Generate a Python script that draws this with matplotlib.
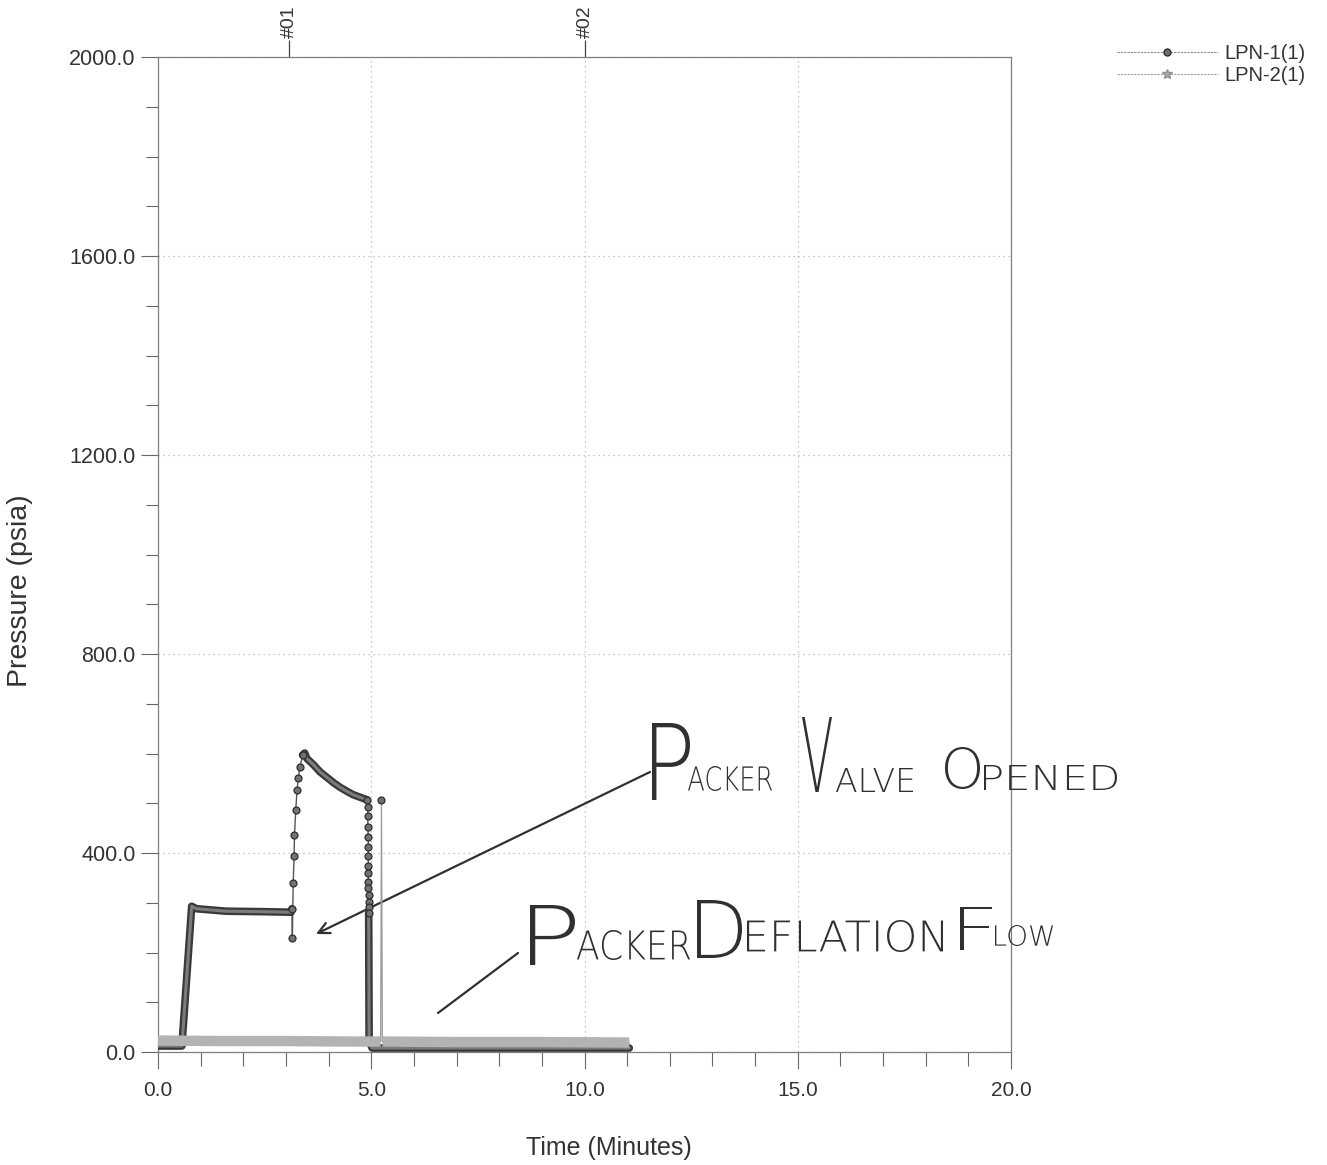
import numpy as np
import matplotlib
matplotlib.use("Agg")
import matplotlib.pyplot as plt
from matplotlib.ticker import MultipleLocator, FormatStrFormatter
from matplotlib.lines import Line2D
from matplotlib.textpath import TextPath
from matplotlib.patches import PathPatch
from matplotlib.transforms import Affine2D
from matplotlib.font_manager import FontProperties

plt.rcParams['font.family'] = ['Liberation Sans', 'DejaVu Sans']

W, H = 1327, 1165

## LPN-1(1): time (min) and pressure (psia)
t1 = [0.00, 0.56, 0.79, 0.90, 1.60, 2.50, 3.12, 3.14,
      3.15, 3.17, 3.19, 3.20, 3.23, 3.26, 3.29, 3.33, 3.39,
      3.44, 3.49, 3.65, 3.80, 3.96, 4.12, 4.27, 4.43, 4.58, 4.74, 4.90,
      4.92, 4.92, 4.92, 4.93, 4.93, 4.93, 4.93, 4.93, 4.93, 4.93, 4.94, 4.94, 4.94, 4.94,
      4.95, 5.02, 11.05]
p1 = [12, 12, 293, 288, 283, 282, 281, 288,
      229, 339, 393, 436, 486, 527, 551, 573, 597,
      601, 590, 577, 563, 552, 541, 532, 524, 517, 512, 507,
      493, 475, 453, 433, 413, 393, 374, 359, 342, 329, 316, 302, 291, 279,
      22, 8, 8]
## stretches logged so densely that the dots merge into a band (index ranges)
dense1 = [(0, 7), (16, 27), (41, 44)]
sparse1 = [(7, 16), (27, 41)]

## LPN-2(1)
t2 = [0.00, 1.50, 3.00, 4.50, 5.22, 5.24, 5.26, 7.00, 9.00, 11.05]
p2 = [23, 22, 22, 21, 21, 506, 21, 20, 20, 19]
dense2 = [(0, 4), (6, 9)]
spike2 = [5]

events = [3.08, 10.02]
event_labels = ['#01', '#02']

fig = plt.figure(figsize=(W/100, H/100), dpi=100)
ax = fig.add_axes([158/W, 1-1052/H, 853/W, 995/H])

# LPN-1
ax.plot(t1, p1, color='#555555', lw=1.0, zorder=3.5)
for a, b in dense1:
    ax.plot(t1[a:b+1], p1[a:b+1], color='#3a3a3a', lw=5.5,
            solid_capstyle='round', solid_joinstyle='round', zorder=4)
    ax.plot(t1[a:b+1], p1[a:b+1], color='#7c7c7c', lw=2.2,
            solid_capstyle='round', solid_joinstyle='round', zorder=4.1)
marks = sorted({i for a, b in sparse1 for i in range(a, b+1)})
ax.plot(t1, p1, ls='none', marker='o', ms=5, mfc='#727272', mec='#2e2e2e',
        mew=0.9, markevery=marks, zorder=5)

# LPN-2, its band lying over the LPN-1 baseline
ax.plot(t2, p2, color='#9a9a9a', lw=0.9, zorder=4.4)
for a, b in dense2:
    ax.plot(t2[a:b+1], p2[a:b+1], color='#b3b3b3', lw=7.5,
            solid_capstyle='butt', zorder=4.5)
ax.plot(t2, p2, ls='none', marker='o', ms=5, mfc='#6e6e6e', mec='#2e2e2e',
        mew=0.9, markevery=spike2, zorder=5)

ax.set_xlim(0, 20)
ax.set_ylim(0, 2000)
ax.xaxis.set_major_locator(MultipleLocator(5))
ax.xaxis.set_minor_locator(MultipleLocator(1))
ax.yaxis.set_major_locator(MultipleLocator(400))
ax.yaxis.set_minor_locator(MultipleLocator(100))
ax.xaxis.set_major_formatter(FormatStrFormatter('%.1f'))
ax.yaxis.set_major_formatter(FormatStrFormatter('%.1f'))
ax.tick_params(axis='x', which='major', length=12, width=0.8, color='#666',
               labelsize=15, pad=9, labelcolor='#333')
ax.tick_params(axis='x', which='minor', length=10, width=0.8, color='#666')
ax.tick_params(axis='y', which='major', length=12, width=0.8, color='#666',
               labelsize=15.5, pad=4, labelcolor='#333')
ax.tick_params(axis='y', which='minor', length=9, width=0.8, color='#666')
ax.grid(which='major', ls=(0, (1, 3)), color='#b5b5b5', lw=0.9)
for s in ax.spines.values():
    s.set_color('#808080')
    s.set_linewidth(0.9)

ax.set_xlabel('Time (Minutes)', fontsize=18, color='#333')
ax.set_ylabel('Pressure (psia)', fontsize=20.5, color='#333')
ax.xaxis.set_label_coords(0.529, -0.084)
ax.yaxis.set_label_coords(-0.147, 0.464)

top = ax.secondary_xaxis('top')
top.set_xticks(events, labels=event_labels)
top.tick_params(length=12, width=0.9, color='#444', labelsize=14,
                labelrotation=90, pad=2, labelcolor='#333')
top.spines['top'].set_visible(False)

handles = [
    Line2D([], [], color='#8a8a8a', lw=0.8, ls=(0, (2, 1)), marker='o', ms=5,
           mfc='#6e6e6e', mec='#2e2e2e'),
    Line2D([], [], color='#a0a0a0', lw=0.8, ls=(0, (2, 1)), marker='*', ms=7,
           mfc='#a8a8a8', mec='#909090'),
]
fig.legend(handles, ['LPN-1(1)', 'LPN-2(1)'], loc='upper left',
           bbox_to_anchor=(1117/W, 1-44/H), frameon=False, fontsize=14.5,
           handlelength=5.0, handletextpad=0.35, labelspacing=0.15,
           borderpad=0, borderaxespad=0, labelcolor='#333')

# handwritten notes, each piece fitted to the box it takes on the page
pen = FontProperties(family='DejaVu Sans', weight='light')

def scrawl(s, x0, x1, ytop, ybot):
    tp = TextPath((0, 0), s, size=100, prop=pen)
    bb = tp.get_extents()
    tr = (Affine2D().translate(-bb.x0, -bb.y0)
          .scale((x1-x0)/bb.width, (ybot-ytop)/bb.height)
          .translate(x0, H-ybot).scale(1/W, 1/H))
    fig.patches.append(PathPatch(tr.transform_path(tp), transform=fig.transFigure,
                                 fc='#303030', ec='none', zorder=6))

notes = [
    ('P', 652, 690, 723, 800), ('ACKER', 688, 772, 766, 791),
    ('V', 802, 832, 717, 792), ('ALVE', 836, 913, 768, 792),
    ('O', 945, 980, 747, 789), ('PENED', 984, 1117, 765, 790),
    ('P', 530, 575, 905, 965), ('ACKER', 577, 690, 930, 960),
    ('D', 697, 742, 900, 958), ('EFLATION', 747, 943, 920, 952),
    ('F', 960, 992, 907, 950), ('LOW', 995, 1053, 925, 946),
]
for n in notes:
    scrawl(*n)

ax.annotate('', xy=(316, H-934), xycoords='figure pixels',
            xytext=(650, H-772), textcoords='figure pixels',
            arrowprops=dict(arrowstyle='->', lw=1.6, color='#303030',
                            shrinkA=0, shrinkB=0, mutation_scale=20))
ax.annotate('', xy=(438, H-1013), xycoords='figure pixels',
            xytext=(518, H-953), textcoords='figure pixels',
            arrowprops=dict(arrowstyle='-', lw=1.6, color='#303030',
                            shrinkA=0, shrinkB=0))

fig.savefig('out.png', dpi=100, facecolor='white')
